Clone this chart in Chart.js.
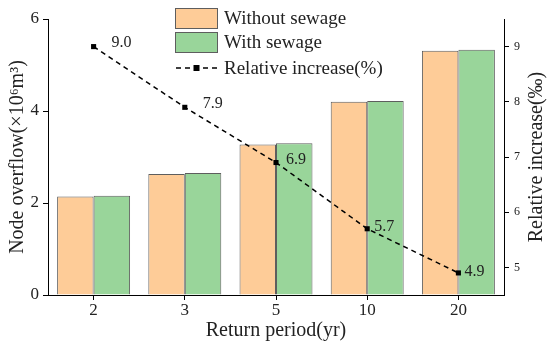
<!DOCTYPE html>
<html>
<head>
<meta charset="utf-8">
<script src="https://cdn.jsdelivr.net/npm/chart.js@4.4.1/dist/chart.umd.min.js"></script>
<style>
  html, body { margin: 0; padding: 0; background: #fff; }
  #wrap { width: 550px; height: 350px; }
</style>
</head>
<body>
<div id="wrap"><canvas id="c" width="550" height="350"></canvas></div>
<script>
const categories = ['2', '3', '5', '10', '20'];
const withoutSewage = [2.14, 2.63, 3.27, 4.20, 5.31];
const withSewage = [2.16, 2.65, 3.30, 4.22, 5.33];
const relativeIncrease = [9.0, 7.9, 6.9, 5.7, 4.9];
const leftTicks = [0, 2, 4, 6];
const rightTicks = [5, 6, 7, 8, 9];
const rightTitle = 'Relative increase(‰)';

const SERIF = '"Liberation Serif", "Times New Roman", serif';
const ORANGE = '#FECC98';
const GREEN = '#99D59A';
const EDGE = '#5e5e5e';
const TXT = '#222';

const labelOffsets = [[18, -4], [18, -4], [10, -3], [7, -2], [6, -1]];

const pointLabels = {
  id: 'pointLabels',
  afterDatasetsDraw(chart) {
    const ctx = chart.ctx;
    const meta = chart.getDatasetMeta(2);
    const ds = chart.data.datasets[2];
    ctx.save();
    ctx.font = '16px ' + SERIF;
    ctx.fillStyle = TXT;
    ctx.textAlign = 'left';
    ctx.textBaseline = 'middle';
    meta.data.forEach((pt, i) => {
      const o = labelOffsets[i] || [8, 0];
      ctx.fillText(ds.data[i].toFixed(1), pt.x + o[0], pt.y + o[1]);
    });
    ctx.restore();
  }
};

const rightTitlePlugin = {
  id: 'rightTitle',
  afterDraw(chart) {
    const ctx = chart.ctx;
    const s = chart.scales.y1;
    const ca = chart.chartArea;
    ctx.save();
    ctx.translate(s.right - 13, (ca.top + ca.bottom) / 2);
    ctx.rotate(-Math.PI / 2);
    ctx.font = '20px ' + SERIF;
    ctx.fillStyle = TXT;
    ctx.textAlign = 'center';
    ctx.textBaseline = 'middle';
    ctx.fillText(rightTitle, 0, 0);
    ctx.restore();
  }
};

const customLegend = {
  id: 'customLegend',
  afterDraw(chart) {
    const ctx = chart.ctx;
    const ds = chart.data.datasets;
    const x0 = 175, w = 43, h = 21;
    const rows = [8, 32];
    ctx.save();
    ctx.font = '19px ' + SERIF;
    ctx.textAlign = 'left';
    ctx.textBaseline = 'middle';
    for (let i = 0; i < 2; i++) {
      ctx.fillStyle = ds[i].backgroundColor;
      ctx.fillRect(x0, rows[i], w, h);
      ctx.strokeStyle = EDGE;
      ctx.lineWidth = 1;
      ctx.strokeRect(x0 + 0.5, rows[i] + 0.5, w - 1, h - 1);
      ctx.fillStyle = TXT;
      ctx.fillText(ds[i].label, x0 + w + 6, rows[i] + h / 2 + 1);
    }
    const ly = 68;
    ctx.strokeStyle = '#000';
    ctx.lineWidth = 1.5;
    ctx.setLineDash([5, 4]);
    ctx.beginPath();
    ctx.moveTo(x0 + 1, ly);
    ctx.lineTo(x0 + w, ly);
    ctx.stroke();
    ctx.setLineDash([]);
    ctx.fillStyle = '#000';
    ctx.fillRect(x0 + w / 2 - 3, ly - 3, 6, 6);
    ctx.fillStyle = TXT;
    ctx.fillText(ds[2].label, x0 + w + 6, ly + 1);
    ctx.restore();
  }
};

new Chart(document.getElementById('c'), {
  data: {
    labels: categories,
    datasets: [
      {
        type: 'bar', label: 'Without sewage', data: withoutSewage,
        backgroundColor: ORANGE, borderColor: EDGE, borderWidth: 1,
        yAxisID: 'y', order: 2, categoryPercentage: 0.8, barPercentage: 1.0
      },
      {
        type: 'bar', label: 'With sewage', data: withSewage,
        backgroundColor: GREEN, borderColor: EDGE, borderWidth: 1,
        yAxisID: 'y', order: 2, categoryPercentage: 0.8, barPercentage: 1.0
      },
      {
        type: 'line', label: 'Relative increase(%)', data: relativeIncrease,
        borderColor: '#000', backgroundColor: '#000', borderWidth: 1.5,
        borderDash: [5, 4], pointStyle: 'rect', pointRadius: 3.6,
        pointBackgroundColor: '#000', pointBorderWidth: 0,
        yAxisID: 'y1', order: 0, tension: 0, fill: false
      }
    ]
  },
  options: {
    responsive: false,
    animation: false,
    devicePixelRatio: 1,
    layout: { padding: { top: 19, left: 0, right: 0, bottom: 0 } },
    plugins: { legend: { display: false }, tooltip: { enabled: false } },
    scales: {
      x: {
        type: 'category',
        offset: true,
        grid: { display: true, drawOnChartArea: false, offset: false, color: '#000', tickLength: 5, tickWidth: 1 },
        border: { display: true, color: '#000', width: 1 },
        ticks: { font: { family: SERIF, size: 17 }, color: TXT, padding: 0, maxRotation: 0 },
        title: { display: true, text: 'Return period(yr)', font: { family: SERIF, size: 20 }, color: TXT, padding: { top: 0, bottom: 7 } },
        afterFit(s) { s.height = 55; }
      },
      y: {
        type: 'linear', position: 'left', min: 0, max: 6,
        afterBuildTicks(s) { s.ticks = leftTicks.map(v => ({ value: v })); },
        grid: { display: true, drawOnChartArea: false, color: '#000', tickLength: 5 },
        border: { display: true, color: '#000', width: 1 },
        ticks: { font: { family: SERIF, size: 17 }, color: TXT, padding: 4 },
        title: { display: true, text: 'Node overflow(×10⁶m³)', font: { family: SERIF, size: 20 }, color: TXT, padding: { top: 6, bottom: 0 } },
        afterFit(s) { s.width = 48; }
      },
      y1: {
        type: 'linear', position: 'right', min: 4.5, max: 9.5,
        afterBuildTicks(s) { s.ticks = rightTicks.map(v => ({ value: v })); },
        grid: { display: true, drawOnChartArea: false, color: '#000', tickLength: 5 },
        border: { display: true, color: '#000', width: 1 },
        ticks: { font: { family: SERIF, size: 12 }, color: TXT, padding: 5 },
        title: { display: false },
        afterFit(s) { s.width = 46; }
      }
    }
  },
  plugins: [pointLabels, customLegend, rightTitlePlugin]
});
</script>
</body>
</html>
